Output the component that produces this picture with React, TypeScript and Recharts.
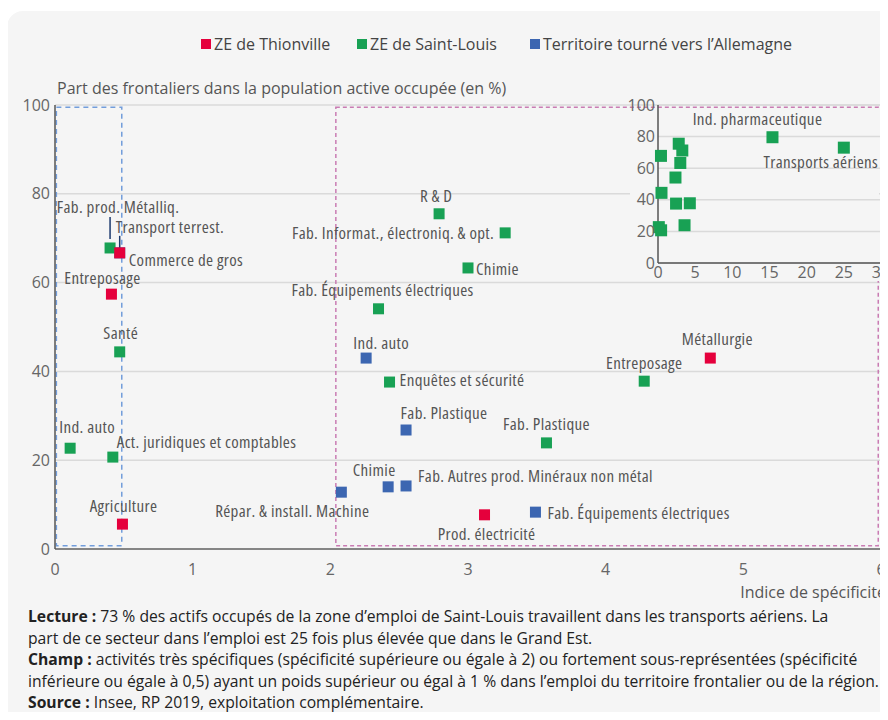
import { ScatterChart, Scatter, XAxis, YAxis, CartesianGrid, ReferenceArea } from 'recharts'

const FONT = "'Open Sans', sans-serif"

const RED = '#e5003c'
const GREEN = '#18a154'
const BLUE = '#3c66b1'

// part des frontaliers (en %) et indice de spécificité
const THIONVILLE = [
  { label: 'Commerce de gros', spec: 0.47, part: 66.7 },
  { label: 'Entreposage', spec: 0.41, part: 57.4 },
  { label: 'Agriculture', spec: 0.49, part: 5.6 },
  { label: 'Métallurgie', spec: 4.76, part: 43.0 },
  { label: 'Prod. électricité', spec: 3.12, part: 7.7 },
]

const SAINT_LOUIS = [
  { label: 'Fab. prod. Métalliq.', spec: 0.4, part: 67.8 },
  { label: 'Santé', spec: 0.47, part: 44.4 },
  { label: 'Ind. auto', spec: 0.11, part: 22.7 },
  { label: 'Act. juridiques et comptables', spec: 0.42, part: 20.7 },
  { label: 'R & D', spec: 2.79, part: 75.5 },
  { label: 'Fab. Informat., électroniq. & opt.', spec: 3.27, part: 71.2 },
  { label: 'Chimie', spec: 3.0, part: 63.3 },
  { label: 'Fab. Équipements électriques', spec: 2.35, part: 54.1 },
  { label: 'Enquêtes et sécurité', spec: 2.43, part: 37.6 },
  { label: 'Entreposage', spec: 4.28, part: 37.8 },
  { label: 'Fab. Plastique', spec: 3.57, part: 23.9 },
]

// hors du cadre principal, visibles dans l'encart
const SAINT_LOUIS_HORS_CADRE = [
  { label: 'Ind. pharmaceutique', spec: 15.4, part: 79.6 },
  { label: 'Transports aériens', spec: 25, part: 73 },
]

const ALLEMAGNE = [
  { label: 'Transport terrest.', spec: 0.47, part: 66.7 },
  { label: 'Ind. auto', spec: 2.26, part: 43.0 },
  { label: 'Fab. Plastique', spec: 2.55, part: 26.8 },
  { label: 'Répar. & install. Machine', spec: 2.08, part: 12.8 },
  { label: 'Chimie', spec: 2.42, part: 14.0 },
  { label: 'Fab. Autres prod. Minéraux non métal', spec: 2.55, part: 14.2 },
  { label: 'Fab. Équipements électriques', spec: 3.49, part: 8.3 },
]

const SPEC_TICKS = [0, 1, 2, 3, 4, 5, 6]
const PART_TICKS = [0, 20, 40, 60, 80, 100]
const INSET_SPEC_TICKS = [0, 5, 10, 15, 20, 25, 30]

// placement des étiquettes : [dx, dy, ancrage] par rapport au centre du point
const LABEL_POS: Record<string, [number, number, string]> = {
  'red:Commerce de gros': [9, 7, 'start'],
  'red:Entreposage': [-9, -17, 'middle'],
  'red:Agriculture': [1, -19, 'middle'],
  'red:Métallurgie': [7, -20, 'middle'],
  'red:Prod. électricité': [2, 19, 'middle'],
  'green:Fab. prod. Métalliq.': [8, -41, 'middle'],
  'green:Santé': [1, -19, 'middle'],
  'green:Ind. auto': [17, -22, 'middle'],
  'green:Act. juridiques et comptables': [4, -16, 'start'],
  'green:R & D': [-3, -18, 'middle'],
  'green:Fab. Informat., électroniq. & opt.': [-11, 0, 'end'],
  'green:Chimie': [8, 1, 'start'],
  'green:Fab. Équipements électriques': [4, -19, 'middle'],
  'green:Enquêtes et sécurité': [10, -3, 'start'],
  'green:Entreposage': [0, -19, 'middle'],
  'green:Fab. Plastique': [0, -19, 'middle'],
  'blue:Transport terrest.': [-4, -26, 'start'],
  'blue:Ind. auto': [15, -16, 'middle'],
  'blue:Fab. Plastique': [38, -18, 'middle'],
  'blue:Répar. & install. Machine': [28, 18, 'end'],
  'blue:Chimie': [-14, -17, 'middle'],
  'blue:Fab. Autres prod. Minéraux non métal': [12, -10, 'start'],
  'blue:Fab. Équipements électriques': [12, 0, 'start'],
  'inset:Ind. pharmaceutique': [-15, -19, 'middle'],
  'inset:Transports aériens': [-23, 14, 'middle'],
}

const LEADERS: Record<string, [number, number]> = {
  'green:Fab. prod. Métalliq.': [-31, -9],
  'blue:Transport terrest.': [-17, -3],
}

const square = (color: string, group: string, size: number) => (props: any) => {
  const { cx, cy, payload } = props
  const key = `${group}:${payload.label}`
  const pos = LABEL_POS[key]
  const leader = LEADERS[key]
  return (
    <g>
      <rect x={cx - size / 2} y={cy - size / 2} width={size} height={size} fill={color} />
      {leader && (
        <line x1={cx} x2={cx} y1={cy + leader[0]} y2={cy + leader[1]} stroke="#1d3a6e" strokeWidth={1.5} />
      )}
      {pos && (
        <text
          x={cx + pos[0]}
          y={cy + pos[1]}
          textAnchor={pos[2] as any}
          dominantBaseline="central"
          fill="#555"
          fontSize={17}
          fontFamily={FONT}
          letterSpacing={0.35}
          style={{ fontStretch: 'condensed' }}
        >
          {payload.label}
        </text>
      )}
    </g>
  )
}

const tickStyle = { fill: '#666', fontSize: 16, fontFamily: FONT }

const LEGEND = [
  { name: 'ZE de Thionville', color: RED, left: 201 },
  { name: 'ZE de Saint-Louis', color: GREEN, left: 357 },
  { name: 'Territoire tourné vers l’Allemagne', color: BLUE, left: 530 },
]

export default function App() {
  return (
    <div style={{ position: 'relative', width: 872, height: 704 }}>
      <div style={{ position: 'absolute', left: -8, top: -8, width: 888, height: 720, overflow: 'hidden', fontFamily: FONT }}>
        <div
          style={{
            position: 'absolute',
            left: 7,
            top: 11,
            width: 900,
            height: 730,
            background: '#f5f5f5',
            borderRadius: 16,
          }}
        />

        {LEGEND.map((l) => (
          <div
            key={l.name}
            style={{
              position: 'absolute',
              left: l.left,
              top: 34,
              height: 20,
              display: 'flex',
              alignItems: 'center',
              fontSize: 16,
              color: '#444',
              whiteSpace: 'nowrap',
            }}
          >
            <span style={{ width: 10, height: 10, background: l.color, marginRight: 3 }} />
            {l.name}
          </div>
        ))}

        <div style={{ position: 'absolute', left: 57, top: 78, fontSize: 16, lineHeight: '20px', color: '#555' }}>
          Part des frontaliers dans la population active occupée (en %)
        </div>

        <div style={{ position: 'absolute', left: 0, top: 0 }}>
          <ScatterChart width={888} height={600} margin={{ top: 105, right: 7, bottom: 21, left: 10 }}>
            <CartesianGrid vertical={false} stroke="#dadada" strokeWidth={1.5} />
            <XAxis
              type="number"
              dataKey="spec"
              domain={[0, 6]}
              ticks={SPEC_TICKS}
              interval={0}
              height={30}
              tickLine={false}
              tickSize={0}
              tickMargin={15}
              axisLine={{ stroke: '#666', strokeWidth: 1.5 }}
              tick={tickStyle}
            />
            <YAxis
              type="number"
              dataKey="part"
              domain={[0, 100]}
              ticks={PART_TICKS}
              interval={0}
              width={45}
              tickLine={false}
              tickSize={0}
              tickMargin={5}
              axisLine={{ stroke: '#555', strokeWidth: 1.5 }}
              tick={tickStyle}
            />
            <ReferenceArea x1={0.01} x2={0.485} y1={0.75} y2={99.5} fill="none" stroke="#729ddb" strokeWidth={1.5} strokeDasharray="5 4" />
            <ReferenceArea x1={2.04} x2={5.98} y1={0.75} y2={99.5} fill="none" stroke="#c97cb3" strokeWidth={1.5} strokeDasharray="4 3" />
            <Scatter name="Territoire tourné vers l’Allemagne" data={ALLEMAGNE} shape={square(BLUE, 'blue', 11)} isAnimationActive={false} />
            <Scatter name="ZE de Saint-Louis" data={SAINT_LOUIS} shape={square(GREEN, 'green', 11)} isAnimationActive={false} />
            <Scatter name="ZE de Thionville" data={THIONVILLE} shape={square(RED, 'red', 11)} isAnimationActive={false} />
          </ScatterChart>
        </div>

        <div style={{ position: 'absolute', left: 630, top: 109, width: 249, height: 172, background: '#f5f5f5' }} />

        <div style={{ position: 'absolute', left: 600, top: 90 }}>
          <ScatterChart width={288} height={200} margin={{ top: 15, right: 7, bottom: 7, left: 28 }}>
            <CartesianGrid vertical={false} stroke="#dadada" strokeWidth={1.5} />
            <XAxis
              type="number"
              dataKey="spec"
              domain={[0, 30]}
              ticks={INSET_SPEC_TICKS}
              interval={0}
              height={20}
              tickLine={false}
              tickSize={0}
              tickMargin={4}
              axisLine={{ stroke: '#555', strokeWidth: 1.5 }}
              tick={tickStyle}
            />
            <YAxis
              type="number"
              dataKey="part"
              domain={[0, 100]}
              ticks={PART_TICKS}
              interval={0}
              width={30}
              tickLine={false}
              tickSize={0}
              tickMargin={3}
              axisLine={{ stroke: '#555', strokeWidth: 1.5 }}
              tick={tickStyle}
            />
            <Scatter
              name="ZE de Saint-Louis"
              data={[...SAINT_LOUIS, ...SAINT_LOUIS_HORS_CADRE]}
              shape={square(GREEN, 'inset', 12)}
              isAnimationActive={false}
            />
          </ScatterChart>
        </div>

        <div style={{ position: 'absolute', right: 2, top: 582, fontSize: 16, lineHeight: '20px', color: '#555' }}>
          Indice de spécificité
        </div>

        <div
          style={{
            position: 'absolute',
            left: 28,
            top: 606,
            fontSize: 15.7,
            lineHeight: '21.5px',
            color: '#222',
            whiteSpace: 'nowrap',
          }}
        >
          <b>Lecture :</b> 73 % des actifs occupés de la zone d’emploi de Saint-Louis travaillent dans les transports aériens. La
          <br />
          part de ce secteur dans l’emploi est 25 fois plus élevée que dans le Grand Est.
          <br />
          <b>Champ :</b> activités très spécifiques (spécificité supérieure ou égale à 2) ou fortement sous-représentées (spécificité
          <br />
          inférieure ou égale à 0,5) ayant un poids supérieur ou égal à 1 % dans l’emploi du territoire frontalier ou de la région.
          <br />
          <b>Source :</b> Insee, RP 2019, exploitation complémentaire.
        </div>
      </div>
    </div>
  )
}
